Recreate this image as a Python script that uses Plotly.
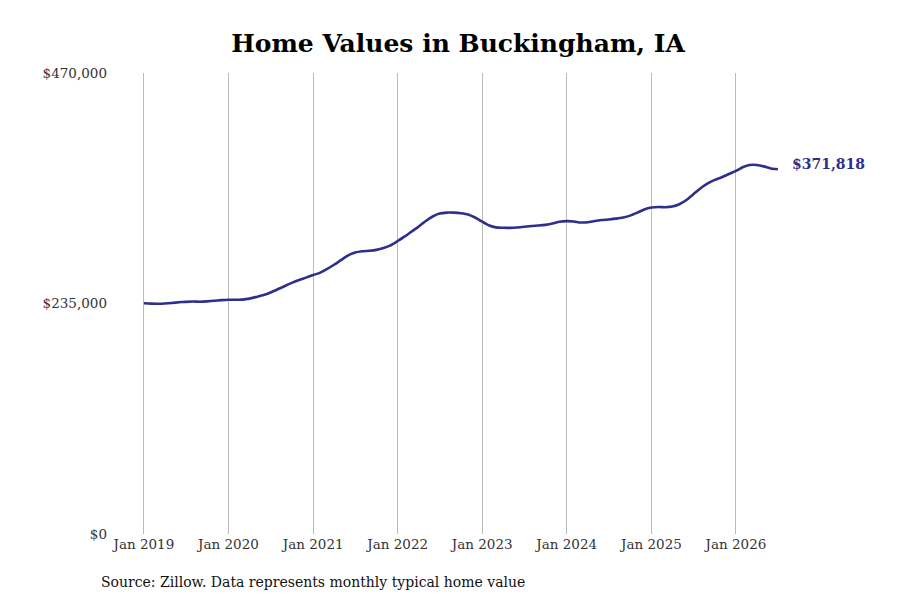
import plotly.graph_objects as go
import pandas as pd

# monthly typical home value, Jan 2019 - Jul 2026
months = pd.date_range("2019-01-01", "2026-07-01", freq="MS")
values = [
    235200, 234900, 234800, 235000, 235500, 236200, 236700, 237000, 236800, 237200, 237800, 238400,
    238800, 238800, 239000, 240000, 241700, 243600, 246200, 249500, 252900, 256000, 258900, 261400,
    264000, 266500, 270000, 274500, 279200, 284000, 287000, 288300, 288800, 289700, 291600, 294300,
    298700, 303400, 308200, 313300, 318900, 323700, 326700, 327700, 327600, 327000, 325800, 322700,
    318400, 314500, 312600, 312200, 312100, 312500, 313200, 314000, 314500, 315200, 316500, 318300,
    319000, 318600, 317600, 317800, 319100, 320100, 320700, 321500, 322700, 324600, 327600, 330900,
    332800, 333400, 333200, 333800, 336200, 340500, 346500, 352500, 357400, 361000, 363700, 367000,
    370200, 374200, 376200, 376200, 374800, 372700, 371818,
]
tick_dates = pd.date_range("2019-01-01", "2026-01-01", freq="YS")
tick_text = [d.strftime("Jan %Y") for d in tick_dates]
y_ticks = [0, 235000, 470000]
y_text = ["$0", "$235,000", "$470,000"]

col = "#2e2e8c"
font = "DejaVu Serif"

fig = go.Figure()
fig.add_trace(go.Scatter(x=months, y=values, mode="lines",
                         line=dict(color=col, width=2.6, shape="spline", smoothing=0.6),
                         hoverinfo="skip", showlegend=False))

fig.add_annotation(x=months[-1], y=values[-1], text="<b>$%s</b>" % format(values[-1], ","),
                   showarrow=False, xanchor="left", yanchor="middle", xshift=12, yshift=5,
                   font=dict(family=font, size=14, color=col))
fig.add_annotation(x=0, xref="paper", y=-0.104, yref="paper", xanchor="left", yanchor="middle",
                   xshift=-9, text="Source: Zillow. Data represents monthly typical home value",
                   showarrow=False, font=dict(family=font, size=14, color="#111111"))

# page body has an 8px margin, so margins are shifted to match the reference
fig.update_layout(
    width=900, height=600,
    margin=dict(l=100, r=28, t=65, b=74),
    paper_bgcolor="white", plot_bgcolor="white",
    title=dict(text="<b>Home Values in Buckingham, IA</b>", x=0.5, xanchor="center",
               y=0.942, yanchor="middle", font=dict(family=font, size=25, color="black")),
    font=dict(family=font, size=13.5, color="#333333"),
    xaxis=dict(range=["2018-07-30", "2027-09-15"], tickvals=tick_dates, ticktext=tick_text,
               showgrid=True, gridcolor="#bbbbbb", gridwidth=1, zeroline=False,
               showline=False, ticks=""),
    yaxis=dict(range=[0, 470000], tickvals=y_ticks, ticktext=y_text, showgrid=False,
               zeroline=False, showline=False, ticks=""),
)

fig.write_html("out.html")
